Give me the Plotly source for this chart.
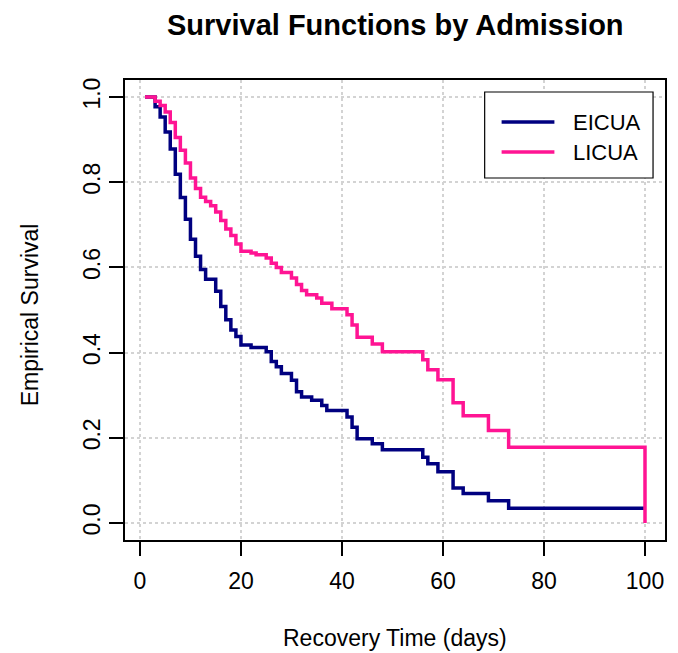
import plotly.graph_objects as go

# ---- data ----
eicua_time = [1, 3, 4, 5, 6, 7, 8, 9, 10, 11, 12, 13, 15, 16, 17, 18, 19, 20, 22, 25, 26, 27,
              28, 30, 31, 32, 34, 36, 37, 41, 42, 43, 46, 48, 56, 57, 59, 62, 64, 69, 73, 100]
eicua_surv = [1.0, 0.977, 0.953, 0.918, 0.878, 0.819, 0.764, 0.713, 0.666, 0.626, 0.595, 0.572,
              0.544, 0.508, 0.477, 0.453, 0.438, 0.418, 0.412, 0.402, 0.379, 0.367, 0.351, 0.335,
              0.308, 0.296, 0.288, 0.276, 0.264, 0.249, 0.225, 0.198, 0.186, 0.172, 0.154, 0.139,
              0.120, 0.082, 0.069, 0.052, 0.0345, 0.0345]

licua_time = [1, 3, 4, 5, 6, 7, 8, 9, 10, 11, 12, 13, 14, 15, 16, 17, 18, 19, 20, 22, 23, 25,
              26, 27, 28, 30, 31, 32, 33, 35, 36, 38, 41, 42, 43, 46, 48, 56, 57, 59, 62, 64,
              69, 73, 100]
licua_surv = [1.0, 0.99, 0.98, 0.965, 0.94, 0.905, 0.875, 0.845, 0.81, 0.785, 0.765, 0.755,
              0.745, 0.73, 0.71, 0.69, 0.675, 0.655, 0.638, 0.634, 0.63, 0.622, 0.61, 0.60,
              0.588, 0.575, 0.56, 0.546, 0.536, 0.528, 0.516, 0.503, 0.489, 0.465, 0.436,
              0.42, 0.402, 0.383, 0.36, 0.336, 0.282, 0.252, 0.217, 0.178, 0.0]

series_names = ["EICUA", "LICUA"]
series_colors = ["#000080", "#FF1493"]

x_ticks = [0, 20, 40, 60, 80, 100]
y_ticks = [0.0, 0.2, 0.4, 0.6, 0.8, 1.0]

title_text = "Survival Functions by Admission"
x_title = "Recovery Time (days)"
y_title = "Empirical Survival"

# ---- layout geometry (pixels) ----
# the html page body has an 8px margin, so the figure is drawn 8px smaller
OFF = 8
W, H = 678 - OFF, 653 - OFF
ML, MR, MT, MB = 125 - OFF, 11, 80 - OFF, 113
PW, PH = W - ML - MR, H - MT - MB
FONT = "Liberation Sans, Arial, sans-serif"


def px_x(px):
    return (px - OFF - ML) / PW


def px_y(py):
    return (MT + PH - (py - OFF)) / PH


fig = go.Figure()
for name, color, t, s in [(series_names[0], series_colors[0], eicua_time, eicua_surv),
                          (series_names[1], series_colors[1], licua_time, licua_surv)]:
    fig.add_trace(go.Scatter(x=t, y=s, mode="lines", name=name,
                             line=dict(color=color, width=3.5, shape="hv"),
                             showlegend=False))

xmin, xmax = min(eicua_time + licua_time), max(eicua_time + licua_time)
xpad = 0.04 * (xmax - xmin)

axis_common = dict(
    showline=True, mirror=True, linecolor="black", linewidth=1.5,
    ticks="outside", ticklen=14, tickwidth=1.5, tickcolor="black",
    showgrid=True, gridcolor="#d3d3d3", griddash="dot", gridwidth=1.5,
    zeroline=False, tickfont=dict(family=FONT, size=23, color="black"),
)
fig.update_xaxes(range=[xmin - xpad, xmax + xpad], tickvals=x_ticks,
                 ticktext=[str(v) for v in x_ticks], ticklabelstandoff=6, **axis_common)
fig.update_yaxes(range=[-0.04, 1.04], tickvals=y_ticks,
                 ticktext=[f"{v:.1f}" for v in y_ticks], tickangle=-90,
                 ticklabelstandoff=0, **axis_common)

annotations = [
    dict(text=f"<b>{title_text}</b>", x=px_x(397), y=px_y(25), xref="paper", yref="paper",
         showarrow=False, font=dict(family=FONT, size=29, color="black"),
         xanchor="center", yanchor="middle"),
    dict(text=x_title, x=px_x(396), y=px_y(638), xref="paper", yref="paper",
         showarrow=False, font=dict(family=FONT, size=23, color="black"),
         xanchor="center", yanchor="middle"),
    dict(text=y_title, x=px_x(30), y=px_y(315), xref="paper", yref="paper",
         showarrow=False, textangle=-90, font=dict(family=FONT, size=23, color="black"),
         xanchor="center", yanchor="middle"),
]

# legend (drawn in the top-right corner like R's legend())
shapes = [dict(type="rect", xref="paper", yref="paper", x0=px_x(486), x1=px_x(655),
               y0=px_y(178), y1=px_y(92), line=dict(color="black", width=1.2),
               fillcolor="white", layer="above")]
rows = [122, 152]
for name, color, ry in zip(series_names, series_colors, rows):
    shapes.append(dict(type="line", xref="paper", yref="paper", x0=px_x(503), x1=px_x(556),
                       y0=px_y(ry), y1=px_y(ry), line=dict(color=color, width=3.5),
                       layer="above"))
    annotations.append(dict(text=name, x=px_x(573), y=px_y(ry), xref="paper", yref="paper",
                            showarrow=False, xanchor="left", yanchor="middle",
                            font=dict(family=FONT, size=22, color="black")))

fig.update_layout(width=W, height=H, margin=dict(l=ML, r=MR, t=MT, b=MB),
                  plot_bgcolor="white", paper_bgcolor="white",
                  annotations=annotations, shapes=shapes, showlegend=False)

fig.write_html("out.html")
